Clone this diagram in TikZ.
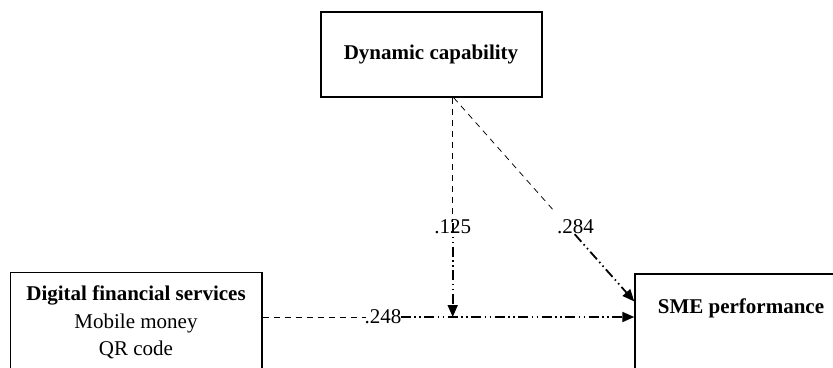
\documentclass[tikz,border=0pt]{standalone}
\usepackage{fontspec}
\setmainfont{Liberation Serif}
\usetikzlibrary{arrows.meta,calc}
\begin{document}
\begin{tikzpicture}[x=1pt,y=-1pt,
  box/.style={draw=black,line width=1.4pt,inner sep=0pt},
  txt/.style={inner sep=0pt,font=\fontsize{21}{25}\selectfont},
  btxt/.style={txt,font=\fontsize{21}{25}\selectfont\bfseries},
  lbl/.style={inner sep=0pt,font=\fontsize{21}{25}\selectfont},
  dashline/.style={line width=0.75pt,dash pattern=on 6pt off 5pt},
  ddline/.style={line width=1.8pt,dash pattern=on 10pt off 3.5pt on 1.5pt off 3.5pt on 1.5pt off 3.5pt,-{Triangle[length=12pt,width=10pt]}}]
\useasboundingbox (0,0) rectangle (833,367);
\clip (0,0) rectangle (833,367);
% boxes
\node[box,minimum width=221pt,minimum height=85pt] (dc) at (431.5,54.5) {};
\node[box,minimum width=251.3pt,minimum height=147.3pt] (dfs) at (136.3,346.3) {};
\node[box,minimum width=265pt,minimum height=145.7pt] (sme) at (767.5,347) {};
% texts
\node[btxt] (dctxt) at (431,54.5) {Dynamic capability};
\node[btxt] (dfstxt) at (136,295) {Digital financial services};
\node[txt] (dfsm) at (136,323) {Mobile money};
\node[txt] (dfsq) at (136,350) {QR code};
\node[btxt] (smetxt) at (741,308) {SME performance};
% labels
\node[lbl] (l125) at (452.7,227) {.125};
\node[lbl] (l284) at (575.5,227) {.284};
\node[lbl] (l248) at (383,317) {.248};
\coordinate (top) at ($(dc.south -| l125)+(1,0)$);
\coordinate (j) at (l125 |- l248);
\coordinate (smein) at ($(sme.north west)+(0,28)$);
% connectors
\draw[dashline] (dc.south -| l125) -- ($(l125.north)+(0,2)$);
\draw[ddline] ($(l125.center)+(0,-4)$) -- (j);
\draw[dashline] (top) -- ($(top)!0.56!(smein)$);
\draw[ddline] ($(top)!0.67!(smein)$) -- (smein);
\draw[dashline] (dfs.east |- l248) -- ($(l248.west)+(2,0)$);
\draw[ddline] ($(l248.east)+(-1,0)$) -- (sme.west |- l248);
\end{tikzpicture}
\end{document}
